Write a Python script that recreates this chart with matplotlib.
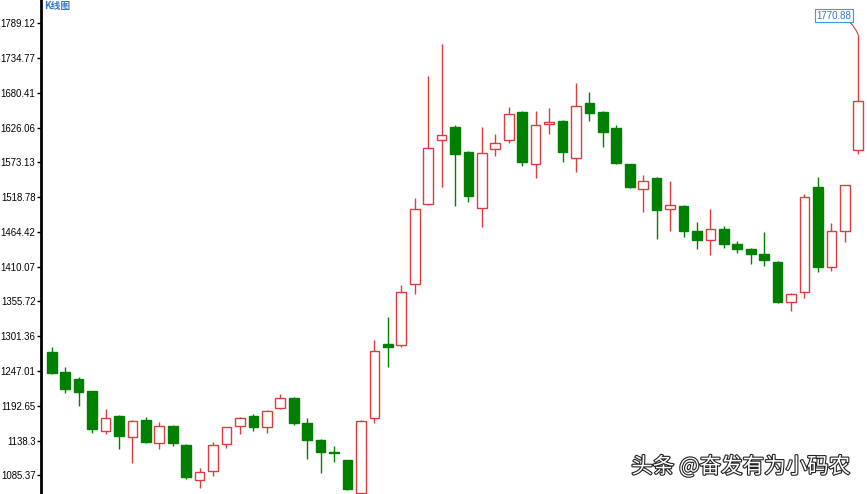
import matplotlib.pyplot as plt
import matplotlib.patheffects as pe
import numpy as np

# daily K-line values (open, high, low, close)
opens = [1276.5, 1245.4, 1235.4, 1215.8, 1153.4, 1177.3, 1145.0, 1171.1, 1134.8, 1162.2,
         1132.1, 1077.6, 1092.1, 1133.2, 1162.2, 1177.3, 1160.6, 1189.3, 1205.8, 1165.9,
         1139.9, 1121.0, 1108.3, 1057.8, 1173.7, 1289.5, 1287.9, 1382.5, 1507.6, 1607.3,
         1628.0, 1589.1, 1501.8, 1592.8, 1607.3, 1650.9, 1569.9, 1631.8, 1636.9, 1578.8,
         1665.4, 1651.4, 1625.5, 1569.4, 1530.5, 1548.1, 1499.8, 1504.5, 1466.0, 1451.5,
         1469.1, 1444.8, 1437.9, 1430.2, 1417.7, 1354.4, 1370.0, 1533.6, 1409.9, 1466.0,
         1591.7]
highs = [1284.3, 1253.2, 1238.5, 1216.5, 1188.7, 1178.9, 1171.1, 1175.3, 1168.4, 1163.5,
         1133.0, 1095.8, 1137.2, 1160.5, 1176.2, 1180.4, 1186.5, 1211.6, 1207.4, 1173.7,
         1141.0, 1131.0, 1108.8, 1171.1, 1295.7, 1332.0, 1381.4, 1516.5, 1707.0, 1756.9,
         1630.7, 1590.0, 1628.0, 1616.6, 1659.2, 1652.9, 1652.5, 1656.7, 1638.5, 1696.6,
         1682.5, 1652.5, 1630.7, 1570.5, 1552.8, 1550.1, 1543.9, 1506.0, 1480.0, 1499.3,
         1473.8, 1450.0, 1439.0, 1463.5, 1419.0, 1369.4, 1523.2, 1550.1, 1477.5, 1537.7,
         1770.88]
lows = [1242.2, 1213.6, 1192.9, 1150.3, 1149.2, 1125.9, 1104.5, 1135.7, 1126.4, 1131.0,
        1079.1, 1064.6, 1084.3, 1127.9, 1148.8, 1154.4, 1150.3, 1187.7, 1163.3, 1110.3,
        1088.0, 1105.5, 1062.0, 1056.9, 1165.9, 1254.1, 1285.3, 1367.4, 1505.6, 1533.6,
        1504.5, 1511.2, 1471.3, 1582.4, 1603.1, 1566.8, 1547.6, 1616.6, 1573.5, 1557.9,
        1637.4, 1596.9, 1569.4, 1533.0, 1495.6, 1452.6, 1465.5, 1456.6, 1437.0, 1428.1,
        1439.5, 1430.8, 1414.1, 1411.0, 1352.9, 1340.9, 1360.7, 1402.1, 1403.2, 1448.8,
        1585.5]
closes = [1244.8, 1219.4, 1215.2, 1156.6, 1173.7, 1146.1, 1169.5, 1137.3, 1162.2, 1134.8,
          1081.8, 1090.5, 1132.1, 1159.7, 1173.7, 1160.6, 1185.6, 1204.9, 1165.9, 1139.9,
          1120.7, 1120.0, 1063.3, 1170.0, 1278.6, 1285.3, 1370.9, 1499.8, 1594.4, 1615.1,
          1585.5, 1520.5, 1586.6, 1602.2, 1647.8, 1573.5, 1630.7, 1635.8, 1588.6, 1660.7,
          1648.9, 1620.2, 1571.0, 1534.1, 1543.9, 1498.3, 1506.0, 1465.5, 1451.5, 1468.6,
          1445.7, 1437.0, 1429.7, 1419.9, 1355.4, 1366.9, 1518.0, 1409.0, 1466.0, 1536.7,
          1668.5]

tick_labels = ["1789.12", "1734.77", "1680.41", "1626.06", "1573.13", "1518.78", "1464.42",
               "1410.07", "1355.72", "1301.36", "1247.01", "1192.65", "1138.3", "1085.37"]

RED = "#dc3b3f"
GREEN = "#008000"

fig = plt.figure(figsize=(8.67, 4.94), dpi=100)
ax = fig.add_axes([41 / 867, 0, 826 / 867, 1])

o = np.array(opens)
h = np.array(highs)
l = np.array(lows)
c = np.array(closes)
x = np.arange(len(o))
up = c >= o

#%% wicks then bodies
ax.vlines(x[up], l[up], h[up], color=RED, lw=1.0, zorder=1)
ax.vlines(x[~up], l[~up], h[~up], color=GREEN, lw=1.0, zorder=1)

body_h = np.maximum(np.abs(c - o), 1.0)
body_b = np.minimum(o, c)
ax.bar(x[up], body_h[up], bottom=body_b[up], width=0.72,
       facecolor="white", edgecolor=RED, linewidth=1.0, zorder=2)
ax.bar(x[~up], body_h[~up], bottom=body_b[~up], width=0.72,
       facecolor=GREEN, edgecolor=GREEN, linewidth=1.0, zorder=2)

#%% axes styling
ax.set_xlim(-0.8, len(o) - 0.35)
ax.set_ylim(1055.7, 1825.4)
ax.set_xticks([])
ax.set_yticks([float(t) for t in tick_labels])
ax.set_yticklabels(tick_labels, fontsize=6.9, family="Liberation Sans")
ax.tick_params(axis="y", length=3, width=1, pad=1, colors="black")
for s in ["top", "right", "bottom"]:
    ax.spines[s].set_visible(False)
ax.spines["left"].set_linewidth(2)

# max value label
imax = int(np.argmax(h))
ax.annotate(f"{h[imax]:.2f}", xy=(x[imax], h[imax]), xytext=(-5, 14),
            textcoords="offset points", ha="right", va="center",
            fontsize=7, family="Liberation Sans", color="#3a78c8",
            bbox=dict(boxstyle="square,pad=0.15", fc="white", ec="#3aa0c8", lw=0.8),
            arrowprops=dict(arrowstyle="-", color=RED, lw=0.8,
                            connectionstyle="arc3,rad=-0.3", shrinkA=0, shrinkB=0))

fig.text(44 / 867, 1 - 0.5 / 494, "K线图", fontsize=7, color="#3a78c8",
         family=["Noto Sans CJK SC", "DejaVu Sans"], fontweight="bold",
         ha="left", va="top")

fig.text(850 / 867, 1 - 467 / 494, "头条 @奋发有为小码农", fontsize=15.5, color="white",
         family=["Noto Sans CJK SC", "DejaVu Sans"], ha="right", va="center",
         path_effects=[pe.withStroke(linewidth=1.6, foreground="#222222")])

fig.savefig("out.png", dpi=100)
